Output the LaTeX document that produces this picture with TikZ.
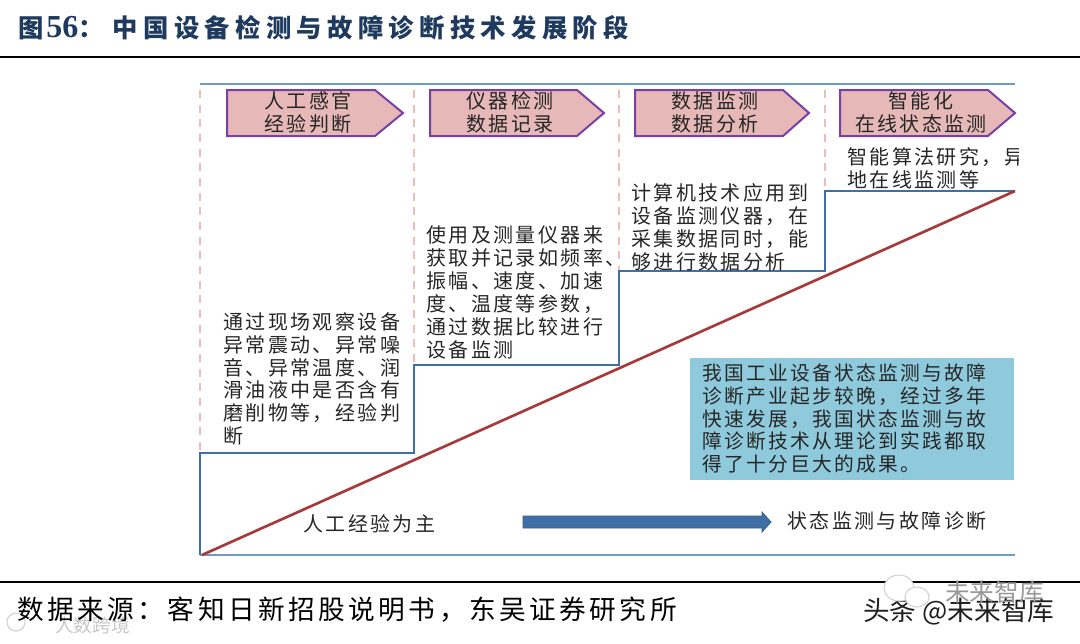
\documentclass[tikz,border=0pt]{standalone}
\usepackage{fontspec}
\setmainfont{Liberation Serif}
\newfontfamily\cjk[LetterSpace=12]{Noto Sans CJK SC}
\newfontfamily\cjkbox[LetterSpace=11.5]{Noto Sans CJK SC}
\newfontfamily\cjktitle[LetterSpace=21]{Noto Sans CJK SC}
\newfontfamily\cjksrc[LetterSpace=13]{Noto Sans CJK SC}
\newfontfamily\cjkplain{Noto Sans CJK SC}
\newcommand{\fwcomma}{\char"FF0C\relax}
\newcommand{\fwcolon}{\char"FF1A\relax}
\definecolor{framec}{HTML}{6F9BC8}
\definecolor{stepc}{HTML}{3F6FA5}
\definecolor{dashc}{HTML}{EDBDBA}
\definecolor{redline}{HTML}{A63A3A}
\definecolor{phasefill}{HTML}{E6B8B7}
\definecolor{phaseedge}{HTML}{7A3FA6}
\definecolor{noteblue}{HTML}{8FC9DC}
\definecolor{titlec}{HTML}{1F3A5F}
\definecolor{bodyc}{HTML}{262626}
\tikzset{
  framel/.style={draw=framec,line width=1.5pt},
  stepl/.style={draw=stepc,line width=1.7pt},
  dashl/.style={draw=dashc,line width=1.2pt,dash pattern=on 6pt off 5pt},
  phase/.style={draw=phaseedge,fill=phasefill,line width=1.5pt,line join=miter},
  bodytxt/.style={anchor=north west,inner sep=0pt,align=left,text=bodyc,font=\fontsize{15pt}{17.2pt}\selectfont\cjk},
  phasetxt/.style={anchor=center,inner sep=0pt,align=center,text=bodyc,font=\fontsize{15pt}{17.2pt}\selectfont\cjk},
  oneline/.style={anchor=west,inner sep=0pt,text=bodyc,font=\fontsize{15pt}{17.2pt}\selectfont\cjk},
  wechat/.style={draw=black!18,fill=white,line width=0.8pt},
}
\begin{document}
\begin{tikzpicture}[x=0.75pt,y=-0.75pt]
\useasboundingbox (0,0) rectangle (1080,643);
% title and rules
\node[anchor=west,inner sep=0pt,text=titlec,font=\fontsize{19pt}{22pt}\selectfont\bfseries] (title) at (18,28) {{\cjkplain 图}\hspace{2pt}{\fontsize{24pt}{24pt}\selectfont 56}{\cjkplain \fwcolon}\hspace{7pt}{\cjktitle 中国设备检测与故障诊断技术发展阶段}};
\coordinate (rtl) at (0,57); \coordinate (rtr) at (1080,57);
\draw[black,line width=2pt] (rtl) -- (rtr);
\coordinate (rbl) at (0,582); \coordinate (rbr) at (1080,582);
\draw[black,line width=2.2pt] (rbl) -- (rbr);
% frame
\coordinate (tl) at (200,84); \coordinate (tr) at (1015,84);
\coordinate (bl) at (200,555); \coordinate (br) at (1015,555);
\draw[framel] (tl) -- (tr);
\draw[framel] (bl) -- (br);
% dashed dividers
\coordinate (s1) at (200,453); \coordinate (s1b) at (414,453);
\coordinate (s2) at (414,365); \coordinate (s2b) at (619,365);
\coordinate (s3) at (619,271); \coordinate (s3b) at (825,271);
\coordinate (s4) at (825,191); \coordinate (s4b) at (1015,191);
\coordinate (d1) at (200,90); \coordinate (d2) at (414,90); \coordinate (d3) at (619,90); \coordinate (d4) at (825,90);
\draw[dashl] (d1) -- (s1);
\draw[dashl] (d2) -- (s2);
\draw[dashl] (d3) -- (s3);
\draw[dashl] (d4) -- (s4);
% staircase
\draw[stepl,line join=miter] (bl) -- (s1) -- (s1b) -- (s2) -- (s2b) -- (s3) -- (s3b) -- (s4) -- (s4b);
% rising diagonal
\coordinate (ds) at (202,555);
\draw[redline,line width=2pt] (ds) -- (s4b);
% phase arrows
\draw[phase] (227,90) -- (375,90) -- (403,113) -- (375,136) -- (227,136) -- cycle;
\draw[phase] (430,90) -- (577,90) -- (604,113) -- (577,136) -- (430,136) -- cycle;
\draw[phase] (635,90) -- (783,90) -- (809,113) -- (783,136) -- (635,136) -- cycle;
\draw[phase] (840,90) -- (988,90) -- (1015,113) -- (988,136) -- (840,136) -- cycle;
\node[phasetxt] (p1) at (308,112.5) {人工感官\\经验判断};
\node[phasetxt] (p2) at (510,112.5) {仪器检测\\数据记录};
\node[phasetxt] (p3) at (715,112.5) {数据监测\\数据分析};
\node[phasetxt] (p4) at (921,112.5) {智能化\\在线状态监测};
% body texts
\node[bodytxt] (t1) at (223,312) {通过现场观察设备\\异常震动、异常噪\\音、异常温度、润\\滑油液中是否含有\\磨削物等\fwcomma 经验判\\断};
\node[bodytxt] (t2) at (426,225.5) {使用及测量仪器来\\获取并记录如频率、\\振幅、速度、加速\\度、温度等参数\fwcomma\\通过数据比较进行\\设备监测};
\node[bodytxt] (t3) at (631,183) {计算机技术应用到\\设备监测仪器\fwcomma 在\\采集数据同时\fwcomma 能\\够进行数据分析};
\begin{scope}
\clip (840,140) rectangle (1018,195);
\node[bodytxt] (t4) at (847,147) {智能算法研究\fwcomma 异\\地在线监测等};
\end{scope}
% note box
\node[draw=none,fill=noteblue,minimum width=243pt,minimum height=91.5pt,anchor=north west,inner sep=0pt] (note) at (690,358) {};
\node[bodytxt,font=\fontsize{14.8pt}{17pt}\selectfont\cjkbox] (notetxt) at (702,364) {我国工业设备状态监测与故障\\诊断产业起步较晚\fwcomma 经过多年\\快速发展\fwcomma 我国状态监测与故\\障诊断技术从理论到实践都取\\得了十分巨大的成果。};
% bottom labels and arrow
\node[oneline] (lhs) at (303,523.5) {人工经验为主};
\node[oneline] (rhs) at (787,520.5) {状态监测与故障诊断};
\draw[fill=stepc,draw=stepc!85!black,line width=0.6pt] (523,516) -- (762,516) -- (762,512) -- (771,522) -- (762,532) -- (762,528) -- (523,528) -- cycle;
% faint watermarks
\draw[wechat] (16,622) circle[radius=9];
\node[anchor=west,inner sep=0pt,text=black!22,font=\fontsize{14pt}{16pt}\selectfont\cjkplain] (wm3) at (55,625) {人数跨境};
% source line
\node[anchor=west,inner sep=0pt,text=black,font=\fontsize{20pt}{22pt}\selectfont\cjksrc] (src) at (17,610) {数据来源\fwcolon 客知日新招股说明书\fwcomma 东吴证券研究所};
\node[anchor=west,inner sep=0pt,text=black!88,font=\fontsize{20pt}{22pt}\selectfont\cjkplain] (wm) at (863,612) {头条 @未来智库};
\draw[wechat] (899,588) ellipse[x radius=15,y radius=13];
\draw[wechat] (917,597) ellipse[x radius=12,y radius=10];
\node[anchor=west,inner sep=0pt,text=black!40,font=\fontsize{18.5pt}{20pt}\selectfont\cjkplain] (wm2) at (945,592) {未来智库};
\end{tikzpicture}
\end{document}
